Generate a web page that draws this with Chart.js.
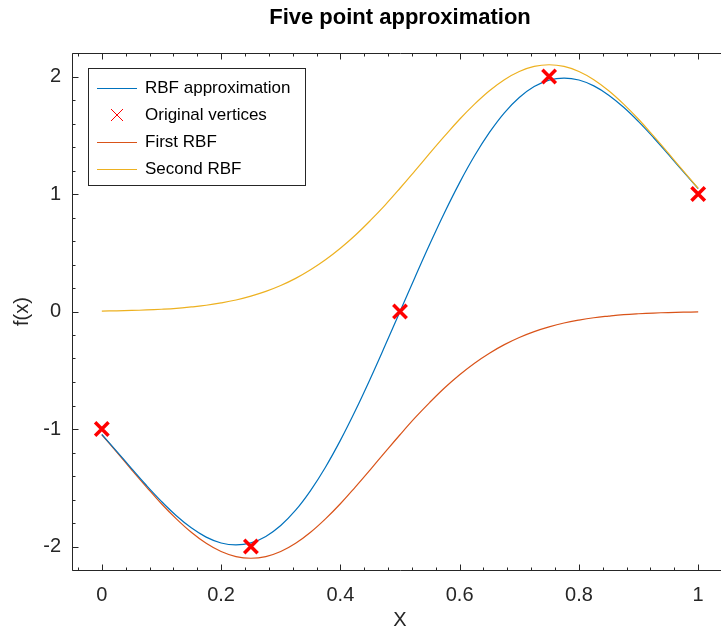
<!DOCTYPE html>
<html>
<head>
<meta charset="utf-8">
<script src="https://cdn.jsdelivr.net/npm/chart.js@4.4.1/dist/chart.umd.min.js"></script>
<style>
  html, body { margin: 0; padding: 0; background: #fff; overflow: hidden; }
  #wrap { width: 800px; height: 632px; }
</style>
</head>
<body>
<div id="wrap"><canvas id="rbfChart" width="800" height="632"></canvas></div>
<script>
const xSamples = [0, 0.025, 0.05, 0.075, 0.1, 0.125, 0.15, 0.175, 0.2, 0.225,
  0.25, 0.275, 0.3, 0.325, 0.35, 0.375, 0.4, 0.425, 0.45, 0.475,
  0.5, 0.525, 0.55, 0.575, 0.6, 0.625, 0.65, 0.675, 0.7, 0.725,
  0.75, 0.775, 0.8, 0.825, 0.85, 0.875, 0.9, 0.925, 0.95, 0.975, 1];
const rbfApprox = [-1.045, -1.190, -1.337, -1.481, -1.616, -1.738, -1.841, -1.920, -1.970, -1.987,
  -1.969, -1.914, -1.821, -1.691, -1.524, -1.325, -1.097, -0.845, -0.574, -0.290,
  0.000, 0.290, 0.574, 0.845, 1.097, 1.325, 1.524, 1.691, 1.821, 1.914,
  1.969, 1.987, 1.970, 1.920, 1.841, 1.738, 1.616, 1.481, 1.337, 1.190, 1.045];
const firstRbf = [-1.049, -1.197, -1.347, -1.494, -1.636, -1.765, -1.879, -1.973, -2.043, -2.086,
  -2.100, -2.086, -2.043, -1.973, -1.879, -1.765, -1.636, -1.494, -1.347, -1.197,
  -1.049, -0.906, -0.773, -0.649, -0.538, -0.440, -0.355, -0.282, -0.221, -0.171,
  -0.131, -0.098, -0.073, -0.053, -0.039, -0.027, -0.019, -0.013, -0.009, -0.006, -0.004];
const secondRbf = [0.004, 0.006, 0.009, 0.013, 0.019, 0.027, 0.039, 0.053, 0.073, 0.098,
  0.131, 0.171, 0.221, 0.282, 0.355, 0.440, 0.538, 0.649, 0.773, 0.906,
  1.049, 1.197, 1.347, 1.494, 1.636, 1.765, 1.879, 1.973, 2.043, 2.086,
  2.100, 2.086, 2.043, 1.973, 1.879, 1.765, 1.636, 1.494, 1.347, 1.197, 1.049];

// the five original vertices
const vertexX = [0, 0.25, 0.5, 0.75, 1];
const vertexY = [-1, -2, 0, 2, 1];

const xTickValues = [0, 0.2, 0.4, 0.6, 0.8, 1];
const xTickLabels = ["0", "0.2", "0.4", "0.6", "0.8", "1"];
const yTickValues = [-2, -1, 0, 1, 2];
const yTickLabels = ["-2", "-1", "0", "1", "2"];

const axisColor = "#262626";
const fontFamily = '"Liberation Sans", Arial, sans-serif';

function toPoints(xs, ys) {
  return xs.map((x, i) => ({ x: x, y: ys[i] }));
}

// box round the axes with major + minor ticks on every side
const axesBox = {
  id: "axesBox",
  afterDatasetsDraw(chart) {
    const { ctx, chartArea: a, scales } = chart;
    const left = a.left + 0.5, right = a.right + 0.5;
    const top = a.top + 0.5, bottom = a.bottom + 0.5;
    ctx.save();
    ctx.strokeStyle = axisColor;
    ctx.lineWidth = 1;
    ctx.beginPath();
    ctx.moveTo(left, top);
    ctx.lineTo(right, top);
    ctx.lineTo(right, bottom);
    ctx.lineTo(left, bottom);
    ctx.closePath();

    const xTick = (v, len) => {
      const px = Math.round(scales.x.getPixelForValue(v)) + 0.5;
      ctx.moveTo(px, bottom);
      ctx.lineTo(px, bottom - len);
      ctx.moveTo(px, top);
      ctx.lineTo(px, top + len);
    };
    const yTick = (v, len) => {
      const py = Math.round(scales.y.getPixelForValue(v)) + 0.5;
      ctx.moveTo(left, py);
      ctx.lineTo(left + len, py);
      ctx.moveTo(right, py);
      ctx.lineTo(right - len, py);
    };
    xTickValues.forEach((v) => xTick(v, 6));
    yTickValues.forEach((v) => yTick(v, 6));
    // minor ticks: five steps between majors
    for (let k = -1; k <= 26; k++) {
      if (k % 5 !== 0) xTick(k * 0.04, 3);
    }
    for (let k = -11; k <= 11; k++) {
      if (k % 5 !== 0) yTick(k * 0.2, 3);
    }
    ctx.stroke();
    ctx.restore();
  },
};

// legend in a framed box, top left inside the axes
const boxLegend = {
  id: "boxLegend",
  afterDraw(chart) {
    const ctx = chart.ctx;
    ctx.save();
    ctx.fillStyle = "#fff";
    ctx.fillRect(88.5, 68.5, 217, 117);
    ctx.strokeStyle = axisColor;
    ctx.lineWidth = 1;
    ctx.strokeRect(88.5, 68.5, 217, 117);

    ctx.font = "17px " + fontFamily;
    ctx.textBaseline = "middle";
    ctx.textAlign = "left";
    chart.data.datasets.forEach((ds, i) => {
      const cy = 88 + i * 27;
      ctx.strokeStyle = ds.borderColor;
      ctx.beginPath();
      if (ds.showLine === false) {
        ctx.lineWidth = 1;
        ctx.moveTo(111, cy - 6);
        ctx.lineTo(123, cy + 6);
        ctx.moveTo(123, cy - 6);
        ctx.lineTo(111, cy + 6);
      } else {
        ctx.lineWidth = 1.2;
        ctx.moveTo(97, cy + 0.5);
        ctx.lineTo(137, cy + 0.5);
      }
      ctx.stroke();
      ctx.fillStyle = "#000";
      ctx.fillText(ds.label, 145, cy);
    });
    ctx.restore();
  },
};

const lineStyle = {
  pointRadius: 0,
  borderWidth: 1.2,
  fill: false,
  tension: 0.4,
};

const ctx = document.getElementById("rbfChart").getContext("2d");

const rbfChart = new Chart(ctx, {
  type: "line",
  data: {
    datasets: [
      {
        ...lineStyle,
        label: "RBF approximation",
        data: toPoints(xSamples, rbfApprox),
        borderColor: "#0072BD",
        order: 2,
      },
      {
        label: "Original vertices",
        data: toPoints(vertexX, vertexY),
        showLine: false,
        pointStyle: "crossRot",
        pointRadius: 9.5,
        pointBorderWidth: 3.5,
        borderColor: "#FF0000",
        backgroundColor: "#FF0000",
        order: 0,
      },
      {
        ...lineStyle,
        label: "First RBF",
        data: toPoints(xSamples, firstRbf),
        borderColor: "#D95319",
        order: 3,
      },
      {
        ...lineStyle,
        label: "Second RBF",
        data: toPoints(xSamples, secondRbf),
        borderColor: "#EDB120",
        order: 1,
      },
    ],
  },
  options: {
    responsive: false,
    animation: false,
    devicePixelRatio: 1,
    layout: { padding: { left: 0, right: 72, top: 0, bottom: 0 } },
    plugins: {
      legend: { display: false },
      tooltip: { enabled: false },
      title: {
        display: true,
        fullSize: false,
        text: "Five point approximation",
        color: "#000",
        font: { family: fontFamily, size: 22, weight: "bold" },
        padding: { top: 5, bottom: 21.6 },
      },
    },
    scales: {
      x: {
        type: "linear",
        min: -0.05,
        max: 1.05,
        afterBuildTicks: (s) => {
          s.ticks = xTickValues.map((v) => ({ value: v }));
        },
        afterFit: (s) => {
          s.height = 62;
        },
        grid: { display: false, drawTicks: false },
        border: { display: false },
        ticks: {
          color: axisColor,
          padding: 13,
          maxRotation: 0,
          autoSkip: false,
          font: { family: fontFamily, size: 20 },
          callback: (value, i) => xTickLabels[i],
        },
        title: {
          display: true,
          text: "X",
          color: axisColor,
          font: { family: fontFamily, size: 20 },
          padding: { top: 0, bottom: 0 },
        },
      },
      y: {
        type: "linear",
        min: -2.2,
        max: 2.2,
        afterBuildTicks: (s) => {
          s.ticks = yTickValues.map((v) => ({ value: v }));
        },
        afterFit: (s) => {
          s.width = 72;
        },
        grid: { display: false, drawTicks: false },
        border: { display: false },
        ticks: {
          color: axisColor,
          padding: 11,
          autoSkip: false,
          font: { family: fontFamily, size: 20 },
          callback: (value, i) => yTickLabels[i],
        },
        title: {
          display: true,
          text: "f(x)",
          color: axisColor,
          font: { family: fontFamily, size: 20 },
          padding: { top: 10, bottom: 0 },
        },
      },
    },
  },
  plugins: [axesBox, boxLegend],
});
</script>
</body>
</html>
